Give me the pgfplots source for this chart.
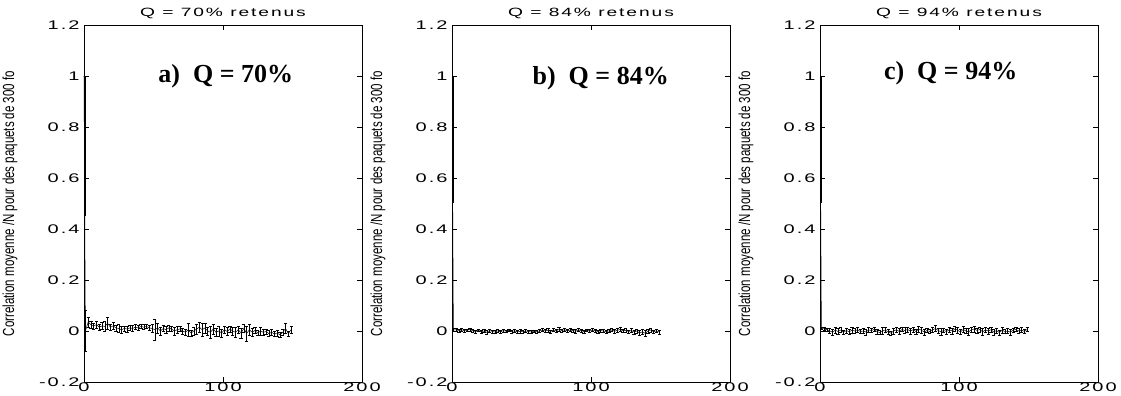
\documentclass[border=0pt]{standalone}
\usepackage{pgfplots}
\pgfplotsset{compat=1.18}
\usepackage{pgfplotstable}
\usepackage{fontspec}
\setmainfont{Liberation Sans}
\newfontfamily\tickfont[LetterSpace=16,FakeStretch=1.6]{Liberation Sans}
\newfontfamily\labfont[FakeStretch=0.72]{Liberation Sans}
\newfontfamily\annfont[FakeStretch=1.0]{Liberation Serif}

\pgfplotstableread{
x y e
0 1 0
1 0.00 0.08
3 0.035 0.02
5 0.025 0.015
7 0.02 0.012
9 0.025 0.015
11 0.015 0.012
13 0.02 0.015
15 0.018 0.02
17 0.03 0.025
19 0.015 0.012
21 0.02 0.015
23 0.012 0.012
25 0.01 0.015
27 0.005 0.012
29 0.01 0.01
31 0.008 0.012
33 0.012 0.01
35 0.01 0.012
37 0.015 0.01
39 0.012 0.01
41 0.018 0.008
43 0.015 0.01
45 0.018 0.008
47 0.012 0.01
49 0.01 0.015
51 0.005 0.04
53 0.012 0.02
55 0.0 0.015
57 0.01 0.012
59 0.005 0.015
61 0.012 0.012
63 0.008 0.01
65 0.0 0.015
67 0.005 0.012
69 0.008 0.01
71 0.0 0.012
73 -0.005 0.01
75 0.005 0.025
77 -0.008 0.012
79 0.0 0.015
81 0.008 0.02
83 0.015 0.02
85 0.005 0.025
87 0.012 0.02
89 0.0 0.015
91 -0.005 0.025
93 0.008 0.02
95 -0.005 0.015
97 0.0 0.02
99 -0.008 0.015
101 0.005 0.012
103 -0.002 0.015
105 0.008 0.012
107 0.0 0.015
109 -0.005 0.02
111 0.005 0.015
113 -0.008 0.02
115 0.01 0.015
117 -0.01 0.03
119 0.005 0.02
121 -0.005 0.015
123 0.002 0.012
125 -0.008 0.01
127 0.0 0.015
129 -0.005 0.012
131 -0.002 0.01
133 -0.01 0.012
135 -0.005 0.01
137 -0.012 0.01
139 -0.008 0.012
141 -0.015 0.01
143 -0.005 0.012
145 0.01 0.02
147 -0.01 0.01
149 0.005 0.015
}\dataA

\pgfplotstableread{
x y e
0 1 0
1 0.005 0.006
3 0.004 0.005
5 0.002 0.005
7 0.005 0.006
9 0.0 0.005
11 0.003 0.005
13 0.006 0.006
15 0.001 0.005
17 -0.002 0.006
19 0.003 0.005
21 -0.003 0.006
23 0.0 0.005
25 -0.005 0.006
27 0.002 0.005
29 -0.002 0.005
31 -0.004 0.006
33 0.001 0.005
35 -0.003 0.006
37 0.002 0.005
39 -0.001 0.005
41 0.003 0.005
43 -0.002 0.006
45 0.001 0.005
47 -0.004 0.005
49 -0.001 0.006
51 -0.003 0.005
53 0.0 0.005
55 -0.002 0.006
57 -0.004 0.005
59 -0.001 0.005
61 -0.003 0.006
63 0.001 0.005
65 0.004 0.006
67 0.0 0.005
69 0.003 0.006
71 -0.002 0.005
73 0.004 0.006
75 0.001 0.005
77 0.006 0.007
79 0.002 0.006
81 0.005 0.007
83 0.0 0.006
85 0.004 0.006
87 0.002 0.005
89 -0.001 0.006
91 0.004 0.006
93 0.001 0.005
95 -0.002 0.006
97 0.003 0.005
99 0.0 0.006
101 0.004 0.005
103 0.001 0.006
105 -0.002 0.005
107 0.002 0.006
109 0.0 0.005
111 -0.003 0.006
113 0.001 0.005
115 0.004 0.006
117 -0.001 0.006
119 0.003 0.007
121 0.006 0.008
123 0.001 0.006
125 0.003 0.008
127 -0.002 0.006
129 0.002 0.007
131 -0.004 0.008
133 0.0 0.007
135 -0.008 0.01
137 -0.003 0.008
139 -0.009 0.01
141 0.0 0.007
143 0.004 0.008
145 -0.003 0.007
147 0.001 0.006
149 -0.004 0.008
}\dataB

\pgfplotstableread{
x y e
0 1 0
1 0.012 0.004
3 0.008 0.005
5 0.005 0.006
7 0.0 0.01
9 -0.004 0.012
11 0.003 0.01
13 -0.002 0.012
15 0.004 0.01
17 -0.005 0.008
19 0.002 0.01
21 -0.003 0.008
23 0.003 0.012
25 0.0 0.01
27 0.005 0.01
29 -0.002 0.008
31 0.0 0.01
33 -0.004 0.012
35 0.004 0.01
37 0.002 0.008
39 0.006 0.008
41 -0.002 0.01
43 -0.006 0.008
45 0.001 0.012
47 0.004 0.01
49 -0.004 0.01
51 -0.008 0.008
53 0.0 0.012
55 0.005 0.01
57 -0.002 0.012
59 0.006 0.008
61 0.002 0.012
63 0.006 0.01
65 0.0 0.012
67 0.005 0.01
69 -0.002 0.01
71 0.008 0.012
73 0.003 0.01
75 -0.004 0.012
77 0.002 0.008
79 -0.002 0.008
81 0.004 0.01
83 0.01 0.012
85 0.002 0.01
87 -0.003 0.012
89 0.002 0.008
91 -0.002 0.01
93 0.005 0.01
95 0.0 0.012
97 0.008 0.01
99 0.003 0.012
101 -0.004 0.01
103 0.006 0.012
105 0.0 0.01
107 -0.003 0.012
109 0.005 0.01
111 0.008 0.012
113 0.002 0.01
115 0.006 0.01
117 -0.003 0.012
119 0.004 0.01
121 0.0 0.012
123 0.005 0.01
125 -0.004 0.012
127 0.002 0.01
129 -0.006 0.01
131 0.003 0.012
133 -0.002 0.008
135 0.0 0.01
137 -0.005 0.01
139 0.004 0.008
141 0.006 0.008
143 0.0 0.01
145 0.004 0.01
147 -0.002 0.008
149 0.006 0.008
}\dataC

\pgfplotsset{
  panel/.style={
    scale only axis, width=278bp, height=357bp,
    xmin=0, xmax=200, ymin=-0.2, ymax=1.2,
    xtick={0,100,200}, ytick={-0.2,0,0.2,0.4,0.6,0.8,1,1.2},
    /pgf/number format/assume math mode=true,
    tick align=inside, major tick length=5bp,
    tick style={black, line width=0.5pt},
    axis line style={black, line width=0.8pt},
    ticklabel style={font=\fontsize{12.5bp}{13bp}\tickfont},
    xticklabel style={yshift=2.5bp},
    yticklabel style={xshift=-1bp},
    title style={font=\fontsize{12bp}{13bp}\tickfont, at={(axis description cs:0.5,1)}, anchor=base, yshift=3bp},
    ylabel style={font=\fontsize{16bp}{17bp}\labfont, at={(axis description cs:-0.266,0.5)}, anchor=center},
    ylabel={Correlation moyenne /N pour des paquets de 300 fo},
  },
  eb/.style={black, line width=0.5pt, no marks,
    error bars/.cd, y dir=both, y explicit,
    error bar style={line width=0.5pt},
    error mark options={rotate=90, mark size=1.6pt, line width=0.5pt}},
}

\begin{document}
\begin{tikzpicture}
\useasboundingbox (-84bp,-14bp) rectangle (1037bp,382bp);
\begin{axis}[panel, at={(0bp,0bp)}, title={Q = 70\% retenus}]
\addplot[eb] table[x=x, y=y, y error=e] {\dataA};
\draw[line width=2pt] (axis cs:0.6,1) -- (axis cs:0.6,0.45);
\node[font=\fontsize{26bp}{28bp}\annfont\bfseries] at (axis cs:102,1.0) {a)\ \ Q = 70\%};
\end{axis}
\begin{axis}[panel, at={(368bp,0bp)}, title={Q = 84\% retenus}]
\addplot[eb] table[x=x, y=y, y error=e] {\dataB};
\draw[line width=2pt] (axis cs:0.6,1) -- (axis cs:0.6,0.5);
\node[font=\fontsize{26bp}{28bp}\annfont\bfseries] at (axis cs:107,0.99) {b)\ \ Q = 84\%};
\end{axis}
\begin{axis}[panel, at={(736bp,0bp)}, title={Q = 94\% retenus}]
\addplot[eb] table[x=x, y=y, y error=e] {\dataC};
\draw[line width=2pt] (axis cs:0.6,1) -- (axis cs:0.6,0.5);
\node[font=\fontsize{26bp}{28bp}\annfont\bfseries] at (axis cs:94,1.01) {c)\ \ Q = 94\%};
\end{axis}
\end{tikzpicture}
\end{document}
